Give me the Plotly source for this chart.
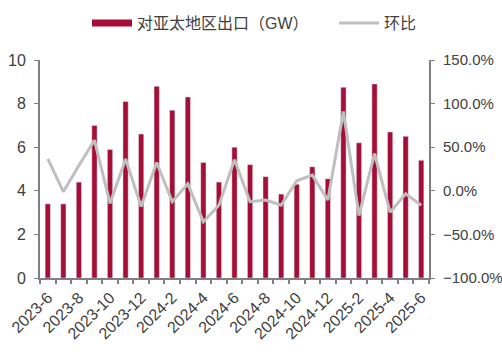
import plotly.graph_objects as go

months = ["2023-6", "2023-7", "2023-8", "2023-9", "2023-10", "2023-11", "2023-12",
          "2024-1", "2024-2", "2024-3", "2024-4", "2024-5", "2024-6", "2024-7",
          "2024-8", "2024-9", "2024-10", "2024-11", "2024-12", "2025-1", "2025-2",
          "2025-3", "2025-4", "2025-5", "2025-6"]
exports_gw = [3.4, 3.4, 4.4, 7.0, 5.9, 8.1, 6.6, 8.8, 7.7, 8.3, 5.3, 4.4, 6.0, 5.2,
              4.65, 3.85, 4.3, 5.1, 4.55, 8.75, 6.2, 8.9, 6.7, 6.5, 5.4]
mom_pct = [36.5, -1.0, 29.0, 58.0, -14.5, 36.5, -18.0, 32.5, -12.5, 8.0, -35.5, -16.5,
           35.5, -12.5, -10.5, -16.5, 11.5, 18.0, -10.5, 91.0, -28.5, 42.5, -24.5, -3.5, -16.5]
tick_labels = [m if i % 2 == 0 else "" for i, m in enumerate(months)]

BAR = "#A50E36"
LINE = "#BFBFBF"
AX = "#808080"
TXT = "#404040"
FONT = "Liberation Sans, Noto Sans CJK SC, sans-serif"

fig = go.Figure()
fig.add_trace(go.Bar(x=months, y=exports_gw, marker_color=BAR, width=0.34,
                     showlegend=False, yaxis="y"))
fig.add_trace(go.Scatter(x=months, y=mom_pct, mode="lines", line=dict(color=LINE, width=3),
                         showlegend=False, yaxis="y2"))
# legend entries
fig.add_trace(go.Scatter(x=[None], y=[None], mode="lines", name="对亚太地区出口（GW）",
                         line=dict(color=BAR, width=7), legend="legend"))
fig.add_trace(go.Scatter(x=[None], y=[None], mode="lines", name="环比",
                         line=dict(color=LINE, width=3), yaxis="y2", legend="legend2"))

leg_common = dict(orientation="h", xanchor="left", xref="container",
                  y=0.983, yanchor="top", yref="container",
                  font=dict(size=16, color=TXT), itemwidth=40,
                  bgcolor="rgba(0,0,0,0)")

fig.update_layout(
    width=502, height=352,
    margin=dict(l=40, r=73, t=60, b=74, autoexpand=False),
    paper_bgcolor="white", plot_bgcolor="white",
    font=dict(family=FONT, size=16, color=TXT),
    legend=dict(x=87 / 502, **leg_common),
    legend2=dict(x=334 / 502, **leg_common),
    xaxis=dict(type="category", tickvals=months, ticktext=tick_labels, tickangle=-45,
               showline=True, linecolor=AX, linewidth=2, ticks="outside",
               tickson="boundaries", ticklen=4, tickcolor=AX, tickwidth=1.5,
               showgrid=False, automargin=False, ticklabelstandoff=2,
               tickfont=dict(size=16, color=TXT)),
    yaxis=dict(range=[0, 10], dtick=2, showline=True, linecolor=AX, linewidth=2,
               ticks="outside", ticklen=4, tickcolor=AX, showgrid=False, zeroline=False,
               automargin=False, ticklabelstandoff=5,
               tickfont=dict(size=16, color=TXT)),
    yaxis2=dict(range=[-100, 150], dtick=50, overlaying="y", side="right",
                tickformat=".1f", ticksuffix="%", showline=True, linecolor=AX,
                linewidth=2, ticks="outside", ticklen=4, tickcolor=AX,
                showgrid=False, zeroline=False, automargin=False,
                ticklabelstandoff=5, tickfont=dict(size=15, color=TXT)),
)
fig.write_html("out.html")
